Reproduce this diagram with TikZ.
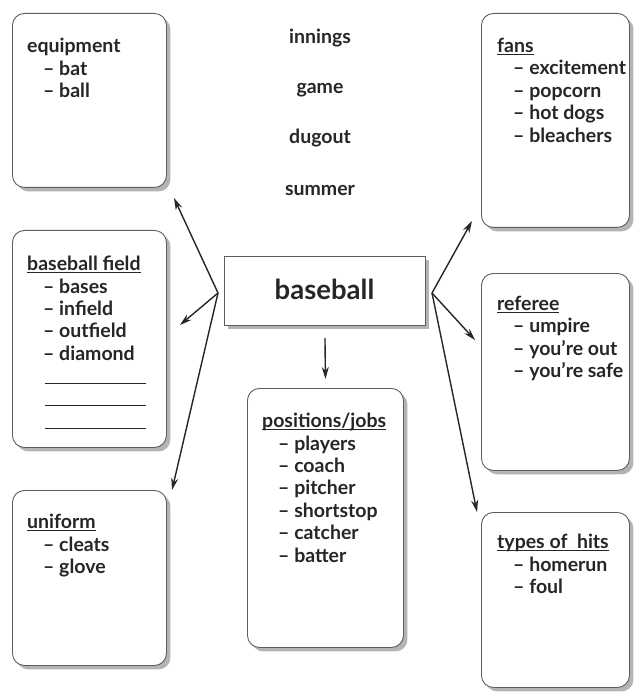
\documentclass[tikz,border=0pt]{standalone}
\usepackage{fontspec}
\setmainfont{Lato}
\usetikzlibrary{arrows.meta,shadows}

\definecolor{ink}{HTML}{262626}
\definecolor{frame}{HTML}{5E5E5E}
\definecolor{shade}{HTML}{B4B4B4}

% underlined heading whose rule crosses the descenders
\newlength\hdwd
\newcommand\hdline[1]{\settowidth\hdwd{#1}\rlap{\rule[-2.6pt]{\hdwd}{0.9pt}}#1}
% indented list item
\newcommand\itm{\hspace*{16pt}\textendash\ }
% blank line to write on
\newcommand\blankline{\hspace*{18pt}\rule[-1pt]{101pt}{0.8pt}}

\tikzset{
  card/.style={draw=frame, line width=0.9pt, fill=white, rounded corners=12pt,
    anchor=north west, inner sep=0pt,
    drop shadow={shadow xshift=4pt, shadow yshift=-4pt, fill=shade, opacity=1}},
  hub/.style={draw=frame, line width=0.9pt, fill=white, anchor=north west, inner sep=0pt,
    drop shadow={shadow xshift=4pt, shadow yshift=-4pt, fill=shade, opacity=1}},
  % the strut fixes the top of the first line 16pt above its baseline
  list/.style={anchor=north west, align=left, inner sep=0pt, text=ink,
    font=\fontsize{19.5}{22.4}\selectfont\bfseries,
    execute at begin node={\rule{0pt}{16pt}}},
  word/.style={anchor=base, inner sep=0pt, text=ink,
    font=\fontsize{19.5}{22}\selectfont\bfseries},
  link/.style={draw=ink, line width=1.4pt, -{Stealth[length=12pt, width=7pt]}},
}

\begin{document}
\begin{tikzpicture}[x=1pt, y=-1pt]
  \fill[white] (0,0) rectangle (633,692);
  \useasboundingbox (0,0) rectangle (633,692);

  % central topic
  \node[hub, minimum width=201pt, minimum height=69pt] (core) at (224,256) {};
  \node[anchor=base, inner sep=0pt, text=ink, font=\fontsize{27.5}{30}\selectfont\bfseries]
    (coretext) at (324.5,299) {baseball};

  % loose words
  \node[word] (w1) at (320,44) {innings};
  \node[word] (w2) at (320,94) {game};
  \node[word] (w3) at (320,144) {dugout};
  \node[word] (w4) at (320,196) {summer};

  % cards
  \node[card, minimum width=154pt, minimum height=174pt] (equip) at (12,13) {};
  \node[card, minimum width=154pt, minimum height=217pt] (field) at (12,230) {};
  \node[card, minimum width=154pt, minimum height=175pt] (unif) at (12,490) {};
  \node[card, minimum width=156pt, minimum height=259pt] (jobs) at (247,388) {};
  \node[card, minimum width=148pt, minimum height=214pt] (fans) at (481,13) {};
  \node[card, minimum width=148pt, minimum height=197pt] (ref) at (481,273) {};
  \node[card, minimum width=148pt, minimum height=175pt] (hits) at (481,512) {};

  % card texts, placed 16pt above the first baseline
  \node[list] (equiptext) at (27,38) {equipment\\ \itm bat\\ \itm ball};
  \node[list] (fieldtext) at (27,256) {\hdline{baseball field}\\ \itm bases\\ \itm infield\\
    \itm outfield\\ \itm diamond\\ \blankline\\ \blankline\\ \blankline};
  \node[list] (uniftext) at (27,514) {\hdline{uniform}\\ \itm cleats\\ \itm glove};
  \node[list] (jobstext) at (262,413) {\hdline{positions/jobs}\\ \itm players\\ \itm coach\\
    \itm pitcher\\ \itm shortstop\\ \itm catcher\\ \itm batter};
  \node[list] (fanstext) at (497,38) {\hdline{fans}\\ \itm excitement\\ \itm popcorn\\
    \itm hot dogs\\ \itm bleachers};
  \node[list] (reftext) at (497,296) {\hdline{referee}\\ \itm umpire\\ \itm you’re out\\
    \itm you’re safe};
  \node[list] (hitstext) at (497,534) {\hdline{types of~~hits}\\ \itm homerun\\ \itm foul};

  % connector hubs and arrow tips
  \coordinate (lhub) at (218,293);
  \coordinate (rhub) at (432,293);
  \coordinate (toequip) at (174,198);
  \coordinate (tofield) at (180,325);
  \coordinate (tounif) at (172,490);
  \coordinate (tofans) at (472,221);
  \coordinate (toref) at (475,340);
  \coordinate (tohits) at (477,512);

  \draw[link] (lhub) -- (toequip);
  \draw[link] (lhub) -- (tofield);
  \draw[link] (lhub) -- (tounif);
  \draw[link] (rhub) -- (tofans);
  \draw[link] (rhub) -- (toref);
  \draw[link] (rhub) -- (tohits);
  \draw[link] ([yshift=-12pt]core.south) -- ([yshift=9pt]jobs.north);
\end{tikzpicture}
\end{document}
